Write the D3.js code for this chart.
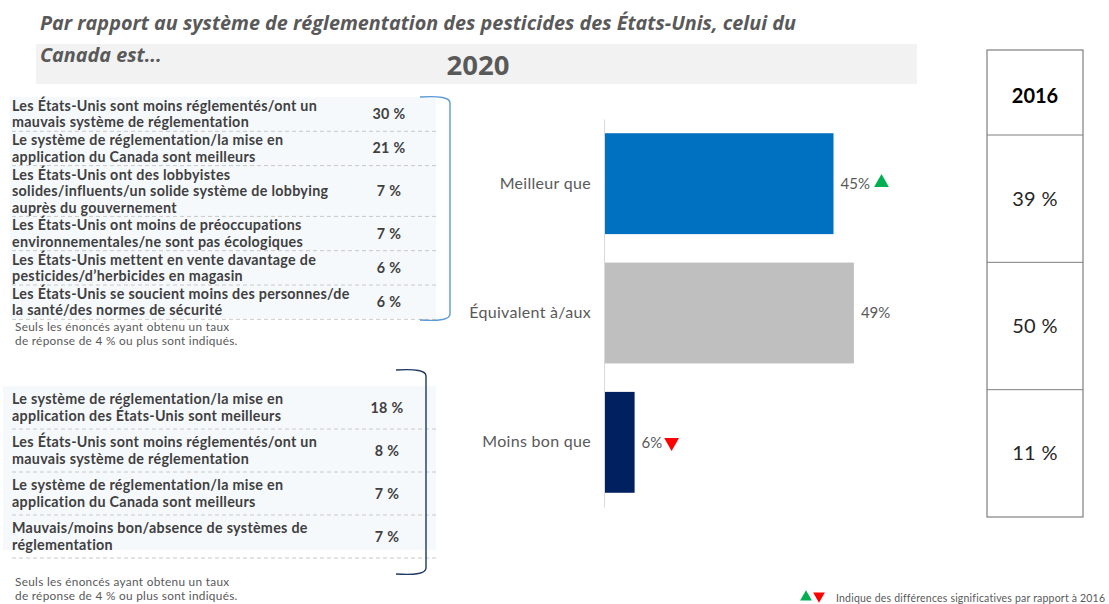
<!DOCTYPE html>
<html><head><meta charset="utf-8">
<script src="https://cdn.jsdelivr.net/npm/d3@7"></script>
<style>
body{margin:0;background:#fff;}
svg{display:block;}
</style></head>
<body>
<svg id="chart" width="1109" height="604"></svg>
<script>
// ---- DATA ----
const categories = ["Meilleur que", "Équivalent à/aux", "Moins bon que"];
const values2020 = [45, 49, 6];
const values2016 = [39, 50, 11];
const significance = ["up", null, "down"];

const betterReasons = [
  ["Les États-Unis sont moins réglementés/ont un", "mauvais système de réglementation"],
  ["Le système de réglementation/la mise en", "application du Canada sont meilleurs"],
  ["Les États-Unis ont des lobbyistes", "solides/influents/un solide système de lobbying", "auprès du gouvernement"],
  ["Les États-Unis ont moins de préoccupations", "environnementales/ne sont pas écologiques"],
  ["Les États-Unis mettent en vente davantage de", "pesticides/d’herbicides en magasin"],
  ["Les États-Unis se soucient moins des personnes/de", "la santé/des normes de sécurité"]
];
const betterValues = [30, 21, 7, 7, 6, 6];

const worseReasons = [
  ["Le système de réglementation/la mise en", "application des États-Unis sont meilleurs"],
  ["Les États-Unis sont moins réglementés/ont un", "mauvais système de réglementation"],
  ["Le système de réglementation/la mise en", "application du Canada sont meilleurs"],
  ["Mauvais/moins bon/absence de systèmes de", "réglementation"]
];
const worseValues = [18, 8, 7, 7];

const titleLines = ["Par rapport au système de réglementation des pesticides des États-Unis, celui du", "Canada est..."];
const yearNow = "2020";
const yearPrev = "2016";
const noteLines = ["Seuls les énoncés ayant obtenu un taux", "de réponse de 4 % ou plus sont indiqués."];
const legendText = "Indique des différences significatives par rapport à 2016";

// ---- DRAW ----
const svg = d3.select("#chart");
const FONT = "Lato, 'Open Sans', sans-serif";
const fmtPct = d => d + " %";

// Title band
svg.append("rect").attr("x", 36).attr("y", 44).attr("width", 881).attr("height", 40).attr("fill", "#f2f2f2");
titleLines.forEach((t, k) => {
  svg.append("text").attr("x", 40).attr("y", 30 + k * 32).text(t)
    .attr("font-family", "'Open Sans', sans-serif").attr("font-style", "italic").attr("font-weight", "bold")
    .attr("font-size", 19.8).attr("fill", "#595959");
});
svg.append("text").attr("x", 478).attr("y", 75).attr("text-anchor", "middle").text(yearNow)
  .attr("font-family", "'Open Sans', sans-serif").attr("font-weight", "bold")
  .attr("font-size", 27.5).attr("fill", "#595959");

// ---- Bar chart ----
const x = d3.scaleLinear().domain([0, 50]).range([604, 859]);
const y = d3.scaleBand().domain(categories).range([119, 507]).paddingInner(0.22).paddingOuter(0.11);
const barColors = d3.scaleOrdinal().domain(categories).range(["#0070c0", "#bfbfbf", "#002060"]);

const yAxis = d3.axisLeft(y).tickSize(0).tickPadding(13);
const gy = svg.append("g").attr("transform", `translate(${x(0)},0)`).call(yAxis);
gy.select(".domain").attr("stroke", "#d9d9d9").attr("stroke-width", 1);
gy.selectAll("text").attr("font-family", FONT).attr("font-size", 16).attr("letter-spacing", 0.3).attr("fill", "#595959");

const bars = categories.map((c, i) => ({cat: c, v: values2020[i], sig: significance[i]}));
svg.append("g").selectAll("rect").data(bars).join("rect")
  .attr("x", x(0) + 1).attr("y", d => y(d.cat))
  .attr("width", d => x(d.v) - x(0) - 1).attr("height", y.bandwidth())
  .attr("fill", d => barColors(d.cat));

const lbl = svg.append("g").selectAll("g").data(bars).join("g")
  .attr("transform", d => `translate(${x(d.v) + 7},${y(d.cat) + y.bandwidth() / 2})`);
lbl.append("text").attr("dy", "0.35em").text(d => d.v + "%")
  .attr("font-family", FONT).attr("font-size", 15).attr("fill", "#595959");
const tri = d3.symbol().type(d3.symbolTriangle).size(95);
lbl.filter(d => d.sig).append("path")
  .attr("d", tri)
  .attr("transform", d => d.sig === "up" ? `translate(${d.v >= 10 ? 41 : 31},-1)` : `translate(${d.v >= 10 ? 41 : 30},0) rotate(180)`)
  .attr("fill", d => d.sig === "up" ? "#00b050" : "#ff0000");

// ---- 2016 table ----
const tY = d3.scaleBand().domain(categories).range([135, 517]);
const tbl = svg.append("g");
tbl.append("rect").attr("x", 987).attr("y", 50).attr("width", 96).attr("height", 467)
  .attr("fill", "none").attr("stroke", "#7f7f7f").attr("stroke-width", 1.2);
tbl.selectAll("line").data(categories).join("line")
  .attr("x1", 987).attr("x2", 1083).attr("y1", d => tY(d)).attr("y2", d => tY(d))
  .attr("stroke", "#7f7f7f").attr("stroke-width", 1);
tbl.append("text").attr("x", 1035).attr("y", 103).attr("text-anchor", "middle").text(yearPrev)
  .attr("font-family", FONT).attr("font-weight", "bold").attr("font-size", 20).attr("fill", "#000");
tbl.selectAll("text.v").data(categories).join("text").attr("class", "v")
  .attr("x", 1035).attr("y", (d) => tY(d) + tY.bandwidth() / 2 + 7).attr("text-anchor", "middle")
  .text((d, i) => fmtPct(values2016[i]))
  .attr("font-family", FONT).attr("font-size", 20).attr("letter-spacing", 0.3).attr("fill", "#262626");

// ---- Reason tables ----
function reasonTable(reasons, vals, opt) {
  const g = svg.append("g");
  const rows = reasons.map((lines, i) => ({lines, v: vals[i]}));
  let acc = opt.top;
  rows.forEach(r => { r.y0 = acc; r.h = r.lines.length * opt.lh + opt.pad; acc += r.h; });
  g.append("rect").attr("x", opt.bgX).attr("y", opt.top).attr("width", 436 - opt.bgX)
    .attr("height", opt.bgBottom - opt.top).attr("fill", "#f6f9fc");
  const rg = g.selectAll("g.row").data(rows).join("g").attr("class", "row");
  rg.append("line").attr("x1", 12).attr("x2", 436)
    .attr("y1", d => d.y0 + d.h).attr("y2", d => d.y0 + d.h)
    .attr("stroke", "#c8c8c8").attr("stroke-dasharray", "4,3").attr("stroke-width", 1);
  rg.each(function (d) {
    const sel = d3.select(this);
    const n = d.lines.length;
    const cy = d.y0 + d.h / 2;
    d.lines.forEach((t, k) => {
      sel.append("text").attr("x", 12).attr("y", cy + (k - (n - 1) / 2) * opt.lh + 5).text(t)
        .attr("font-family", FONT).attr("font-weight", "bold").attr("font-size", 14.3)
        .attr("letter-spacing", 0.3).attr("fill", "#404040");
    });
    sel.append("text").attr("x", opt.valX).attr("y", cy + 5).attr("text-anchor", "middle").text(fmtPct(d.v))
      .attr("font-family", FONT).attr("font-weight", "bold").attr("font-size", 14.3)
      .attr("letter-spacing", 0.3).attr("fill", "#404040");
  });
  const bx = opt.bx, t = opt.bTop, b = opt.bBottom;
  g.append("path")
    .attr("d", `M${bx - 30},${t} Q${bx},${t - 2} ${bx},${t + 6} L${bx},${b - 6} Q${bx},${b + 2} ${bx - 30},${b}`)
    .attr("fill", "none").attr("stroke", opt.bColor).attr("stroke-width", 1.4);
  noteLines.forEach((t2, k) => {
    g.append("text").attr("x", 15).attr("y", opt.noteY + k * 13.5).text(t2)
      .attr("font-family", FONT).attr("font-size", 11.8).attr("letter-spacing", 0.3).attr("fill", "#595959");
  });
}

reasonTable(betterReasons, betterValues, {top: 97, lh: 16.5, pad: 1.3, bgX: 10, bgBottom: 318, valX: 389,
  bx: 450, bTop: 97, bBottom: 320, bColor: "#5b9bd5", noteY: 331});
reasonTable(worseReasons, worseValues, {top: 386, lh: 16.5, pad: 10, bgX: 3, bgBottom: 550, valX: 387,
  bx: 426, bTop: 370, bBottom: 574, bColor: "#1f3864", noteY: 586});

// ---- Legend ----
const lg = svg.append("g").attr("transform", "translate(806,598)");
lg.append("path").attr("d", d3.symbol().type(d3.symbolTriangle).size(60)).attr("fill", "#00b050").attr("transform", "translate(0,-1)");
lg.append("path").attr("d", d3.symbol().type(d3.symbolTriangle).size(60)).attr("fill", "#ff0000").attr("transform", "translate(13,-2) rotate(180)");
lg.append("text").attr("x", 30).attr("y", 4).text(legendText)
  .attr("font-family", FONT).attr("font-size", 10.5).attr("letter-spacing", 0.2).attr("fill", "#595959");
</script>
</body></html>
